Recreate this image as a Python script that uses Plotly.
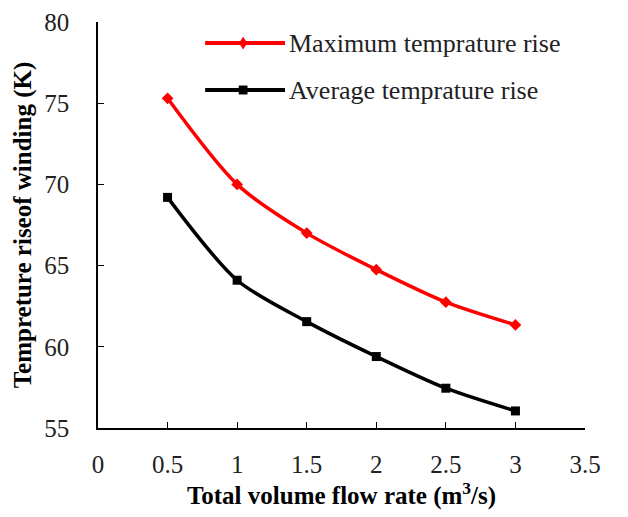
import plotly.graph_objects as go

flow_rate = [0.5, 1.0, 1.5, 2.0, 2.5, 3.0]
max_rise = [75.3, 70.0, 67.0, 64.75, 62.75, 61.35]
avg_rise = [69.2, 64.1, 61.55, 59.4, 57.45, 56.05]
series_names = ["Maximum temprature rise", "Average temprature rise"]
series_colors = ["#ff0000", "#000000"]

FONT = "Liberation Serif, Times New Roman, serif"

fig = go.Figure()
fig.add_trace(go.Scatter(
    x=flow_rate, y=max_rise, name=series_names[0], showlegend=False,
    mode="lines+markers", line=dict(color=series_colors[0], width=3.5, shape="spline", smoothing=0.8),
    marker=dict(symbol="diamond", size=9, color=series_colors[0])))
fig.add_trace(go.Scatter(
    x=flow_rate, y=avg_rise, name=series_names[1], showlegend=False,
    mode="lines+markers", line=dict(color=series_colors[1], width=3.5, shape="spline", smoothing=0.8),
    marker=dict(symbol="square", size=9, color=series_colors[1])))

# manual legend (long sample lines like the original)
leg_x0, leg_x1 = 0.22, 0.384
leg_y = [0.948, 0.8325]
for i, (nm, col) in enumerate(zip(series_names, series_colors)):
    y = leg_y[i]
    fig.add_shape(type="line", xref="paper", yref="paper", x0=leg_x0, x1=leg_x1, y0=y, y1=y,
                  line=dict(color=col, width=4))
    fig.add_annotation(xref="paper", yref="paper", x=leg_x1 + 0.004, y=y, text=nm,
                       showarrow=False, xanchor="left", yanchor="middle",
                       font=dict(size=26, family=FONT, color="#222"))
# legend markers
fig.add_shape(type="path", xref="paper", yref="paper",
              path="M 0.298 0.9635 L 0.3065 0.948 L 0.298 0.9325 L 0.2895 0.948 Z",
              fillcolor=series_colors[0], line=dict(width=0))
fig.add_shape(type="rect", xref="paper", yref="paper",
              x0=0.289, x1=0.307, y0=0.8215, y1=0.8435,
              fillcolor=series_colors[1], line=dict(width=0))

fig.update_layout(
    width=628, height=517,
    margin=dict(l=98, r=43, t=22, b=89),
    paper_bgcolor="white", plot_bgcolor="white",
    font=dict(family=FONT, color="black", size=25),
)
fig.update_xaxes(range=[0, 3.5], dtick=0.5, tick0=0, showgrid=False, zeroline=False,
                 showline=True, linecolor="black", linewidth=1.5, automargin=False,
                 ticks="inside", ticklen=6, tickcolor="black",
                 ticklabelstandoff=13,
                 tickfont=dict(size=25, family=FONT, color="#222"),
                 title=dict(text="<b>Total volume flow rate (m<sup>3</sup>/s)</b>",
                            font=dict(size=25, family=FONT), standoff=10))
fig.update_yaxes(range=[55, 80], dtick=5, showgrid=False, zeroline=False,
                 showline=True, linecolor="black", linewidth=1.5, automargin=False,
                 ticks="inside", ticklen=6, tickcolor="black",
                 ticklabelstandoff=22,
                 tickfont=dict(size=25, family=FONT, color="#222"),
                 title=dict(text="<b>Tempreture riseof winding (K)</b>",
                            font=dict(size=25, family=FONT), standoff=6))

fig.write_html("out.html", config={"displayModeBar": False},
               post_script="document.body.style.margin='0px';")
